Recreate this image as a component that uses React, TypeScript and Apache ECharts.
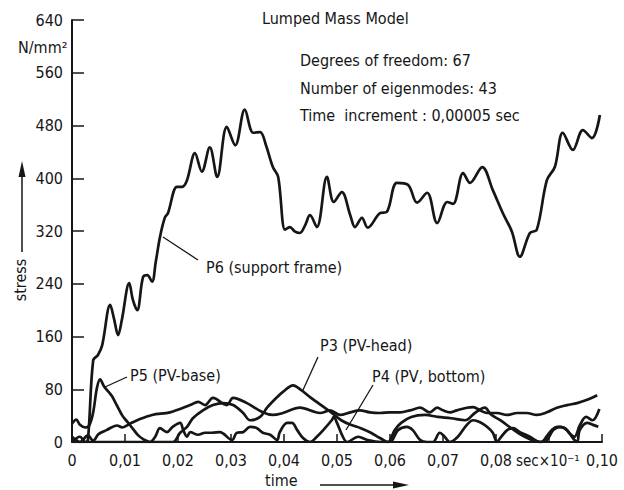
import React, { useEffect, useRef } from "react";
import * as echarts from "echarts";

const FONT = "'Liberation Sans Narrow', 'DejaVu Sans Condensed', 'Liberation Sans', sans-serif";
const INK = "#161616";

const yTicks = [0, 80, 160, 240, 320, 400, 480, 560, 640];

// [time (sec x 10^-1 axis units), stress N/mm^2]
const p6Data: number[][] = [
  [0, 0], [0.0015, 8], [0.0025, 0], [0.003, 3], [0.004, 124], [0.0049, 132], [0.0057, 147],
  [0.0072, 208], [0.0079, 188], [0.0087, 162], [0.0094, 185], [0.0108, 241], [0.0115, 215],
  [0.0123, 200], [0.0134, 250], [0.0142, 253], [0.0151, 243], [0.0158, 273], [0.0166, 311],
  [0.0175, 340], [0.0181, 347], [0.0198, 387], [0.0208, 387], [0.0217, 397], [0.0232, 438],
  [0.0245, 410], [0.026, 447], [0.0274, 402], [0.0292, 478], [0.0308, 450], [0.0326, 504],
  [0.0342, 469], [0.0355, 470], [0.0366, 450], [0.0379, 417], [0.0389, 402], [0.0402, 322],
  [0.0411, 326], [0.0421, 319], [0.043, 317], [0.044, 329], [0.0449, 344], [0.0462, 326],
  [0.0481, 402], [0.0494, 364], [0.0509, 379], [0.0525, 344], [0.0534, 326], [0.0547, 340],
  [0.0558, 325], [0.0581, 347], [0.0594, 349], [0.0613, 393], [0.0634, 390], [0.0651, 363],
  [0.067, 378], [0.0689, 332], [0.0708, 364], [0.0719, 361], [0.0738, 408], [0.0751, 393],
  [0.0774, 417], [0.0794, 382], [0.0813, 347], [0.083, 319], [0.0845, 281], [0.0864, 317],
  [0.0877, 322], [0.0896, 397], [0.0911, 417], [0.0926, 469], [0.0945, 443], [0.0964, 473],
  [0.0981, 461], [0.0996, 496],
];

const p5Data: number[][] = [
  [0, 28], [0.0008, 34], [0.0015, 26], [0.0025, 22], [0.0033, 26], [0.004, 45], [0.0047, 82],
  [0.0053, 95], [0.006, 85], [0.0067, 78], [0.0075, 70], [0.0085, 55], [0.0095, 40],
  [0.0105, 30], [0.0115, 20], [0.0125, 10], [0.0135, 4], [0.0147, 0], [0.0157, 8],
  [0.0166, 21], [0.0179, 15], [0.019, 23], [0.0204, 29], [0.021, 18], [0.0217, 8],
  [0.0223, 15], [0.0238, 11], [0.0251, 14], [0.0264, 14], [0.0279, 15], [0.0302, 3],
  [0.0311, 14], [0.0323, 15], [0.0336, 23], [0.0349, 21], [0.036, 14], [0.0374, 11],
  [0.0387, 3], [0.0392, 15], [0.0406, 29], [0.0415, 29], [0.0425, 18], [0.0436, 6],
  [0.0449, 0], [0.0462, 8], [0.0474, 18], [0.049, 33], [0.0494, 38], [0.05, 29],
  [0.0511, 8], [0.0519, 0], [0.054, 8], [0.0558, 3], [0.0583, 0], [0.06, 0], [0.0615, 18],
  [0.0632, 23], [0.0643, 18], [0.0657, 3], [0.067, 0], [0.0681, 0], [0.0694, 14],
  [0.0703, 8], [0.0713, 0], [0.0728, 8], [0.0745, 26], [0.0757, 33], [0.077, 30],
  [0.0783, 23], [0.0794, 14], [0.0802, 0], [0.0808, 6], [0.0821, 18], [0.0832, 21],
  [0.0845, 15], [0.0864, 8], [0.0883, 0], [0.0896, 3], [0.0908, 18], [0.0921, 23],
  [0.0934, 18], [0.0945, 6], [0.0953, 0], [0.0958, 18], [0.0972, 29], [0.0983, 26],
  [0.0993, 23],
];

const p4Data: number[][] = [
  [0, 8], [0.0008, 3], [0.0015, 0], [0.003, 10], [0.004, 2], [0.005, 12], [0.0065, 18],
  [0.0085, 25], [0.0095, 22], [0.011, 28], [0.0123, 33], [0.0151, 41], [0.0185, 45],
  [0.0223, 56], [0.0238, 61], [0.0251, 56], [0.0266, 67], [0.0292, 56], [0.0304, 67],
  [0.033, 59], [0.036, 45], [0.0379, 41], [0.0398, 44], [0.043, 52], [0.0468, 44],
  [0.0487, 48], [0.0506, 41], [0.0525, 45], [0.0543, 48], [0.0562, 45], [0.0581, 44],
  [0.06, 45], [0.0619, 45], [0.0638, 48], [0.0657, 52], [0.0675, 45], [0.0689, 52],
  [0.07, 48], [0.0713, 45], [0.0726, 48], [0.0745, 52], [0.0757, 53], [0.077, 48],
  [0.0783, 44], [0.0802, 44], [0.0821, 41], [0.084, 44], [0.0858, 44], [0.0877, 41],
  [0.0896, 45], [0.0915, 52], [0.0934, 56], [0.0953, 59], [0.0972, 64], [0.0991, 71],
];

const p3Data: number[][] = [
  [0, 0], [0.005, 0], [0.01, 0], [0.015, 0], [0.019, 0], [0.0204, 14], [0.0217, 23],
  [0.0228, 36], [0.0247, 48], [0.0266, 56], [0.0285, 59], [0.0304, 56], [0.0323, 44],
  [0.0336, 33], [0.0355, 38], [0.0368, 52], [0.0387, 68], [0.0398, 76], [0.0417, 86],
  [0.0432, 79], [0.0451, 67], [0.047, 56], [0.0489, 45], [0.0508, 33], [0.0526, 26],
  [0.0545, 21], [0.0564, 14], [0.0581, 6], [0.0596, 0], [0.0609, 18], [0.0621, 29],
  [0.064, 38], [0.0666, 41], [0.069, 38], [0.0715, 36], [0.0742, 33], [0.076, 44],
  [0.0779, 52], [0.079, 42], [0.0808, 33], [0.0827, 22], [0.0845, 12], [0.0865, 4],
  [0.0885, 0], [0.0897, 10], [0.0905, 18], [0.0915, 23], [0.0928, 22], [0.094, 12],
  [0.0948, 8], [0.0958, 25], [0.097, 38], [0.0982, 33], [0.0995, 50],
];

const annotations = [
  { text: "Lumped Mass Model", x: 262, y: 18, size: 16 },
  { text: "Degrees of freedom: 67", x: 300, y: 60, size: 16 },
  { text: "Number of eigenmodes: 43", x: 300, y: 88, size: 16 },
  { text: "Time  increment : 0,00005 sec", x: 300, y: 115, size: 16 },
  { text: "P6 (support frame)", x: 206, y: 267, size: 16 },
  { text: "P5 (PV-base)", x: 130, y: 375, size: 16 },
  { text: "P3 (PV-head)", x: 320, y: 345, size: 16 },
  { text: "P4 (PV, bottom)", x: 372, y: 376, size: 16 },
  { text: "N/mm²", x: 18, y: 47, size: 16 },
  { text: "time", x: 265, y: 480, size: 16 },
  { text: "sec×10⁻¹", x: 516, y: 461, size: 15 },
];

const leaders = [
  [163, 237, 198, 260],
  [105, 387, 127, 377],
  [303, 390, 318, 357],
  [346, 430, 373, 385],
];

const fmt = (v: number) => {
  if (Math.abs(v) < 1e-9) return "0";
  if (Math.abs(v - 0.09) < 1e-6) return "";
  return v.toFixed(2).replace(".", ",");
};

function lineSeries(name: string, data: number[][]) {
  return {
    name,
    type: "line",
    data,
    smooth: 0.35,
    showSymbol: false,
    lineStyle: { color: INK, width: 2.7 },
    silent: true,
  };
}

export default function App() {
  const ref = useRef<HTMLDivElement>(null);
  useEffect(() => {
    document.body.style.margin = "0";
    const chart = echarts.init(ref.current!, null, { renderer: "svg" });
    const textEls: any[] = annotations.map((a) => ({
      type: "text",
      x: a.x,
      y: a.y,
      style: {
        text: a.text,
        fontSize: a.size,
        fontFamily: FONT,
        fill: INK,
        align: "left",
        verticalAlign: "middle",
      },
    }));
    const leaderEls: any[] = leaders.map((l) => ({
      type: "line",
      shape: { x1: l[0], y1: l[1], x2: l[2], y2: l[3] },
      style: { stroke: INK, lineWidth: 1.3 },
    }));
    chart.setOption({
      animation: false,
      backgroundColor: "#ffffff",
      grid: { left: 72, right: 22, top: 20, bottom: 48 },
      xAxis: {
        type: "value",
        min: 0,
        max: 0.1,
        interval: 0.01,
        axisLine: { show: true, onZero: false, lineStyle: { color: INK, width: 2 } },
        axisTick: { show: true, inside: true, length: 8, lineStyle: { color: INK, width: 1.5 } },
        axisLabel: { color: INK, fontSize: 16, fontFamily: FONT, margin: 10, formatter: fmt },
        splitLine: { show: false },
      },
      yAxis: {
        type: "value",
        min: 0,
        max: 640,
        interval: 80,
        axisLine: { show: true, lineStyle: { color: INK, width: 2 } },
        axisTick: { show: true, inside: true, length: 12, lineStyle: { color: INK, width: 1.5 } },
        axisLabel: {
          color: INK,
          fontSize: 16,
          fontFamily: FONT,
          margin: 9,
          formatter: (v: number) => (yTicks.includes(v) ? String(v) : ""),
        },
        splitLine: { show: false },
      },
      series: [
        lineSeries("P6 (support frame)", p6Data),
        lineSeries("P5 (PV-base)", p5Data),
        lineSeries("P4 (PV, bottom)", p4Data),
        lineSeries("P3 (PV-head)", p3Data),
      ],
      graphic: [
        ...textEls,
        ...leaderEls,
        {
          type: "text",
          x: 20,
          y: 280,
          rotation: Math.PI / 2,
          style: {
            text: "stress",
            fontSize: 16,
            fontFamily: FONT,
            fill: INK,
            align: "center",
            verticalAlign: "middle",
          },
        },
        { type: "line", shape: { x1: 22, y1: 252, x2: 22, y2: 172 }, style: { stroke: INK, lineWidth: 1.5 } },
        { type: "polygon", shape: { points: [[22, 161], [18.5, 177], [25.5, 177]] }, style: { fill: INK } },
        { type: "line", shape: { x1: 320, y1: 485, x2: 398, y2: 485 }, style: { stroke: INK, lineWidth: 1.5 } },
        { type: "polygon", shape: { points: [[409, 485], [393, 481.5], [393, 488.5]] }, style: { fill: INK } },
      ],
    });
    return () => chart.dispose();
  }, []);
  return <div ref={ref} style={{ width: 624, height: 490 }} />;
}
